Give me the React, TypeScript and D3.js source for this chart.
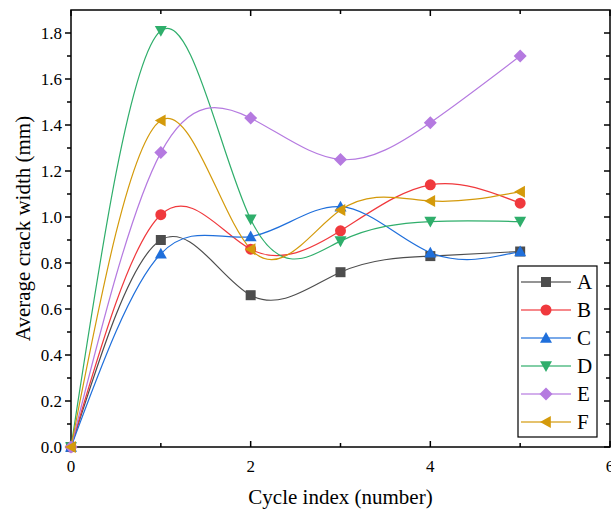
import React, { useEffect, useRef } from "react";
import * as d3 from "d3";

const cycles = [0, 1, 2, 3, 4, 5];
const seriesNames = ["A", "B", "C", "D", "E", "F"];
const valuesA = [0, 0.9, 0.66, 0.76, 0.83, 0.85];
const valuesB = [0, 1.01, 0.86, 0.94, 1.14, 1.06];
const valuesC = [0, 0.84, 0.915, 1.045, 0.845, 0.85];
const valuesD = [0, 1.81, 0.99, 0.895, 0.98, 0.98];
const valuesE = [0, 1.28, 1.43, 1.25, 1.41, 1.7];
const valuesF = [0, 1.42, 0.86, 1.03, 1.07, 1.11];
const xMajorTicks = [0, 2, 4, 6];
const yMajorTicks = [0, 0.2, 0.4, 0.6, 0.8, 1.0, 1.2, 1.4, 1.6, 1.8];

const colors = ["#4d4d4d", "#f0393d", "#1f6fdb", "#2fae6b", "#b57ae0", "#d49a0b"];
const symbols = ["square", "circle", "up", "down", "diamond", "left"];

const App = () => {
  const svgRef = useRef(null);
  const width = 611;
  const height = 510;
  const margin = { left: 71, right: 1, top: 10, bottom: 63 };

  useEffect(() => {
    const svg = d3.select(svgRef.current);
    svg.selectAll("*").remove();

    const allValues = [valuesA, valuesB, valuesC, valuesD, valuesE, valuesF];
    const font = "'Liberation Serif', 'Times New Roman', serif";

    const x = d3.scaleLinear().domain([0, 6]).range([margin.left, width - margin.right]);
    const y = d3.scaleLinear().domain([0, 1.9]).range([height - margin.bottom, margin.top]);

    const x0 = x(0), x1 = x(6), y0 = y(0), y1 = y(1.9);

    // ticks
    const ticks = svg.append("g").attr("stroke", "#000").attr("stroke-width", 1.5);
    d3.range(0, 7).forEach((v) => {
      const len = v % 2 === 0 ? 6 : 4;
      ticks.append("line").attr("x1", x(v)).attr("x2", x(v)).attr("y1", y0).attr("y2", y0 - len);
      ticks.append("line").attr("x1", x(v)).attr("x2", x(v)).attr("y1", y1).attr("y2", y1 + len);
    });
    d3.range(0, 19).forEach((i) => {
      const v = i / 10;
      const len = i % 2 === 0 ? 6 : 4;
      ticks.append("line").attr("x1", x0).attr("x2", x0 - len).attr("y1", y(v)).attr("y2", y(v));
      ticks.append("line").attr("x1", x1).attr("x2", x1 - len).attr("y1", y(v)).attr("y2", y(v));
    });

    // frame
    svg.append("rect")
      .attr("x", x0).attr("y", y1)
      .attr("width", x1 - x0).attr("height", y0 - y1)
      .attr("fill", "none").attr("stroke", "#000").attr("stroke-width", 1.5);

    // tick labels
    svg.append("g").selectAll("text").data(xMajorTicks).enter().append("text")
      .attr("x", (d) => x(d)).attr("y", y0 + 25)
      .attr("text-anchor", "middle")
      .attr("font-family", font).attr("font-size", 17)
      .text((d) => d);
    svg.append("g").selectAll("text").data(yMajorTicks).enter().append("text")
      .attr("x", x0 - 9).attr("y", (d) => y(d) + 6)
      .attr("text-anchor", "end")
      .attr("font-family", font).attr("font-size", 17)
      .text((d) => d.toFixed(1));

    // axis titles
    svg.append("text")
      .attr("x", (x0 + x1) / 2).attr("y", 504)
      .attr("text-anchor", "middle")
      .attr("font-family", font).attr("font-size", 21)
      .text("Cycle index (number)");
    svg.append("text")
      .attr("transform", `translate(30, ${(y0 + y1) / 2}) rotate(-90)`)
      .attr("text-anchor", "middle")
      .attr("font-family", font).attr("font-size", 21)
      .text("Average crack width (mm)");

    const symbolPath = (kind, cx, cy) => {
      const s = 6;
      if (kind === "square") return `M${cx - 5},${cy - 5}h10v10h-10z`;
      if (kind === "up") return `M${cx},${cy - s}L${cx + s},${cy + s * 0.8}L${cx - s},${cy + s * 0.8}Z`;
      if (kind === "down") return `M${cx},${cy + s}L${cx + s},${cy - s * 0.8}L${cx - s},${cy - s * 0.8}Z`;
      if (kind === "left") return `M${cx - s},${cy}L${cx + s * 0.8},${cy - s}L${cx + s * 0.8},${cy + s}Z`;
      if (kind === "diamond") return `M${cx},${cy - 6.5}L${cx + 6.5},${cy}L${cx},${cy + 6.5}L${cx - 6.5},${cy}Z`;
      return d3.arc()({ innerRadius: 0, outerRadius: 5.5, startAngle: 0, endAngle: 2 * Math.PI })
        ? `M${cx - 5.5},${cy}a5.5,5.5 0 1,0 11,0a5.5,5.5 0 1,0 -11,0`
        : "";
    };

    const line = d3.line().x((d) => x(d[0])).y((d) => y(d[1])).curve(d3.curveNatural);

    allValues.forEach((vals, i) => {
      const pts = cycles.map((c, j) => [c, vals[j]]);
      svg.append("path")
        .attr("d", line(pts))
        .attr("fill", "none")
        .attr("stroke", colors[i])
        .attr("stroke-width", 1.2);
    });
    allValues.forEach((vals, i) => {
      svg.append("g").selectAll("path").data(cycles).enter().append("path")
        .attr("d", (c, j) => symbolPath(symbols[i], x(c), y(vals[j])))
        .attr("fill", colors[i]);
    });

    // legend
    const lg = svg.append("g");
    lg.append("rect")
      .attr("x", 518).attr("y", 266).attr("width", 79).attr("height", 171)
      .attr("fill", "#fff").attr("stroke", "#000").attr("stroke-width", 1.2);
    seriesNames.forEach((name, i) => {
      const cy = 282 + i * 28;
      lg.append("line")
        .attr("x1", 521).attr("x2", 571).attr("y1", cy).attr("y2", cy)
        .attr("stroke", colors[i]).attr("stroke-width", 2).attr("stroke-opacity", 0.6);
      lg.append("path").attr("d", symbolPath(symbols[i], 546, cy)).attr("fill", colors[i]);
      lg.append("text")
        .attr("x", 577).attr("y", cy + 7)
        .attr("font-family", font).attr("font-size", 21)
        .text(name);
    });
  }, []);

  return (
    <svg
      ref={svgRef}
      width={width}
      height={height}
      style={{ position: "absolute", left: 0, top: 0, background: "#fff" }}
    />
  );
};

export default App;
